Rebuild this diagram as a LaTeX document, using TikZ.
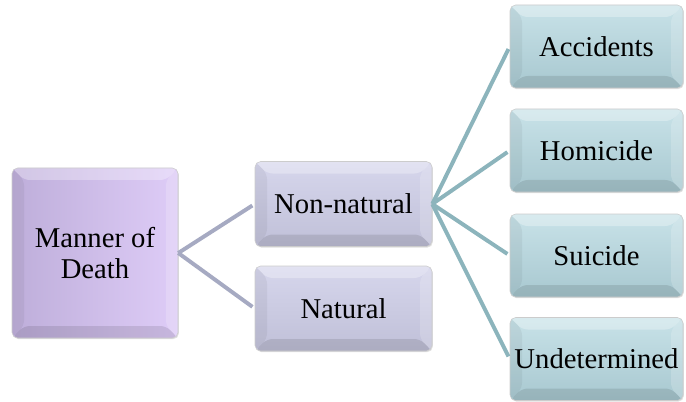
\documentclass[tikz,border=0pt]{standalone}
\usepackage{fontspec}
\setmainfont{Liberation Serif}
\usepackage{tikz}
\usetikzlibrary{shadows,positioning}

\definecolor{lilacL}{RGB}{222,204,247}
\definecolor{lilacD}{RGB}{190,174,218}
\definecolor{greyL}{RGB}{214,214,236}
\definecolor{greyD}{RGB}{192,192,216}
\definecolor{tealL}{RGB}{200,226,232}
\definecolor{tealD}{RGB}{168,200,208}
\definecolor{lineA}{RGB}{166,170,194}
\definecolor{lineB}{RGB}{140,180,188}

\begin{document}
\begin{tikzpicture}[
  bevel/.style={path picture={
    \path (path picture bounding box.south west) coordinate (bsw)
          (path picture bounding box.north east) coordinate (bne);
    \path (bsw) ++(#1,#1) coordinate (isw);
    \path (bne) ++(-#1,-#1) coordinate (ine);
    \fill[white,opacity=.30] (bsw|-bne) -- (bne) -- (ine) -- (isw|-ine) -- cycle;
    \fill[black,opacity=.05] (bsw) -- (bsw|-bne) -- (isw|-ine) -- (isw) -- cycle;
    \fill[black,opacity=.10] (bsw) -- (bne|-bsw) -- (ine|-isw) -- (isw) -- cycle;
    \fill[white,opacity=.18] (bne|-bsw) -- (bne) -- (ine) -- (ine|-isw) -- cycle;
  }},
  box/.style={rectangle, rounded corners=4pt, draw=white!80!black, line width=.4pt,
    align=center, inner sep=0pt, font=\fontsize{20.4}{22.5}\selectfont,
    drop shadow={opacity=.25, shadow xshift=.6pt, shadow yshift=-.8pt}},
  root/.style={box, minimum width=4.15cm, minimum height=4.25cm,
    left color=lilacD, right color=lilacL, bevel=.3cm},
  mid/.style={box, minimum width=4.425cm, minimum height=2.125cm,
    top color=greyL, bottom color=greyD, bevel=.3cm},
  leaf/.style={box, minimum width=4.325cm, minimum height=2.075cm,
    top color=tealL, bottom color=tealD, bevel=.3cm},
  link/.style={line width=2.8pt, shorten >=2pt}
]
\useasboundingbox (0,0) rectangle (17.15,-10.05);

\node[root] (mod) at (2.375,-6.325) {Manner of\\Death};

\node[mid] (nonnat) at (8.5875,-5.1) {Non-natural};
\node[mid] (nat) at (8.5875,-7.7125) {Natural};

\node[leaf] (acc) at (14.9125,-1.1625) {Accidents};
\node[leaf] (hom) at (14.9125,-3.7625) {Homicide};
\node[leaf] (sui) at (14.9125,-6.3875) {Suicide};
\node[leaf] (und) at (14.9125,-8.975) {Undetermined};

\begin{scope}[link, lineA]
\draw (mod.east) -- (nonnat.west);
\draw (mod.east) -- (nat.west);
\end{scope}
\begin{scope}[link, lineB]
\draw (nonnat.east) -- (acc.west);
\draw (nonnat.east) -- (hom.west);
\draw (nonnat.east) -- (sui.west);
\draw (nonnat.east) -- (und.west);
\end{scope}
\end{tikzpicture}
\end{document}
